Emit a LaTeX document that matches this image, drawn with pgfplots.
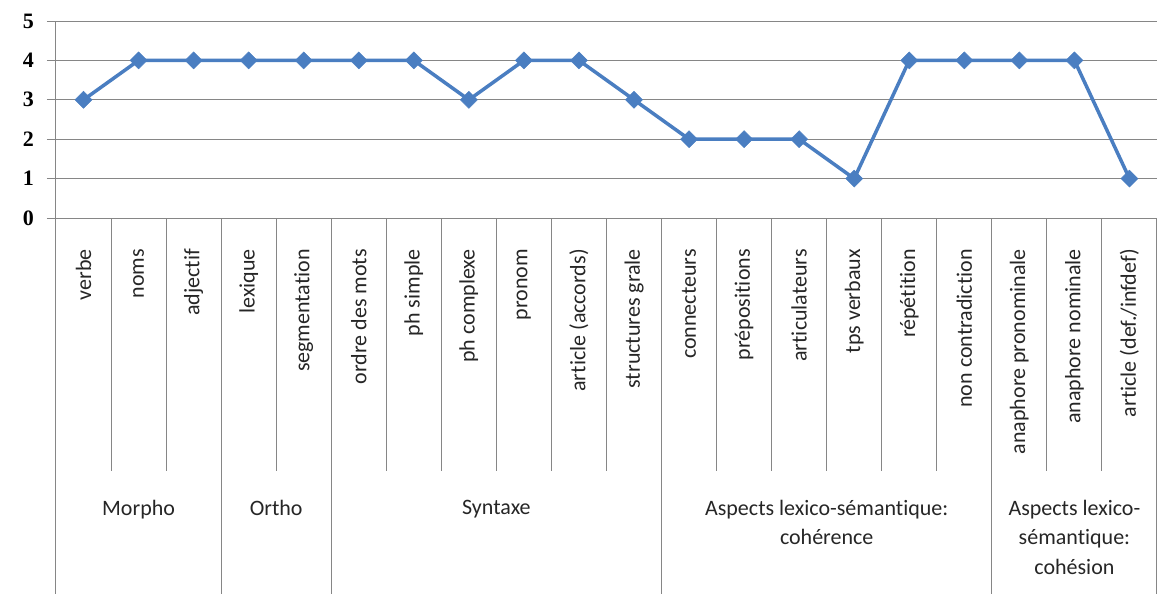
\documentclass[border=0pt]{standalone}
\usepackage{fontspec}
\setmainfont{Carlito}[Ligatures=NoCommon]
\newfontfamily\numfont{Liberation Serif}
\usepackage{pgfplots}
\pgfplotsset{compat=1.18}
\usetikzlibrary{calc}
\definecolor{axisgray}{RGB}{134,134,134}
\definecolor{lineblue}{RGB}{74,126,193}

\begin{document}
\begin{tikzpicture}
\begin{axis}[
  scale only axis, width=1101pt, height=197pt,
  xmin=0.5, xmax=20.5, ymin=0, ymax=5,
  axis x line*=bottom, axis y line*=left,
  axis line style={axisgray, line width=1pt, -},
  ymajorgrids, grid style={axisgray, line width=1pt},
  ytick={0,...,5}, xtick={1,...,20},
  xticklabels={verbe, noms, adjectif, lexique, segmentation, ordre des mots,
    ph simple, ph complexe, pronom, article (accords), structures grale,
    connecteurs, prépositions, articulateurs, tps verbaux, répétition,
    non contradiction, anaphore pronominale, anaphore nominale, article (def./infdef)},
  x tick style={draw=none},
  y tick style={axisgray, line width=1pt},
  tick align=outside, major tick length=9pt,
  xticklabel style={rotate=90, anchor=east, inner sep=0pt,
    font=\fontsize{22}{26}\selectfont, text=black!85},
  xticklabel shift=22pt,
  yticklabel style={font=\numfont\bfseries\fontsize{22}{22}\selectfont, inner sep=0pt},
  yticklabel shift=13pt,
  /pgf/number format/assume math mode=true,
  clip=false,
]
\addplot[color=lineblue, line width=3.5pt, mark=square*, mark size=6pt,
  mark options={rotate=45, fill=lineblue, draw=lineblue, line width=0.5pt}]
  coordinates {
  (1,3) (2,4) (3,4) (4,4) (5,4) (6,4) (7,4) (8,3) (9,4) (10,4)
  (11,3) (12,2) (13,2) (14,2) (15,1) (16,4) (17,4) (18,4) (19,4) (20,1)
};
\coordinate (O) at (rel axis cs:0,0);
% separators between categories
\pgfplotsinvokeforeach{1.5,2.5,4.5,6.5,7.5,8.5,9.5,10.5,12.5,13.5,14.5,15.5,16.5,18.5,19.5}{
  \draw[axisgray, line width=1pt] (axis cs:#1,0) -- ++(0pt,-253pt);
}
% separators between groups
\pgfplotsinvokeforeach{0.5,3.5,5.5,11.5,17.5,20.5}{
  \draw[axisgray, line width=1pt] (axis cs:#1,0) -- ++(0pt,-376pt);
}
% group names
\tikzset{grp/.style={anchor=north, align=center, inner sep=0pt,
  font=\fontsize{22}{29.5}\selectfont, text=black!85}}
\path (axis cs:2,0) ++(0pt,-282pt) node[grp] {Morpho};
\path (axis cs:4.5,0) ++(0pt,-282pt) node[grp] {Ortho};
\path (axis cs:8.5,0) ++(0pt,-282pt) node[grp] {Syntaxe};
\path (axis cs:14.5,0) ++(0pt,-282pt) node[grp] {Aspects lexico-sémantique:\\cohérence};
\path (axis cs:19,0) ++(0pt,-282pt) node[grp] {Aspects lexico-\\sémantique:\\cohésion};
\end{axis}
\pgfresetboundingbox
\path[use as bounding box] ($(O)+(-56pt,-376pt)$) rectangle ($(O)+(1109pt,218pt)$);
\end{tikzpicture}
\end{document}
